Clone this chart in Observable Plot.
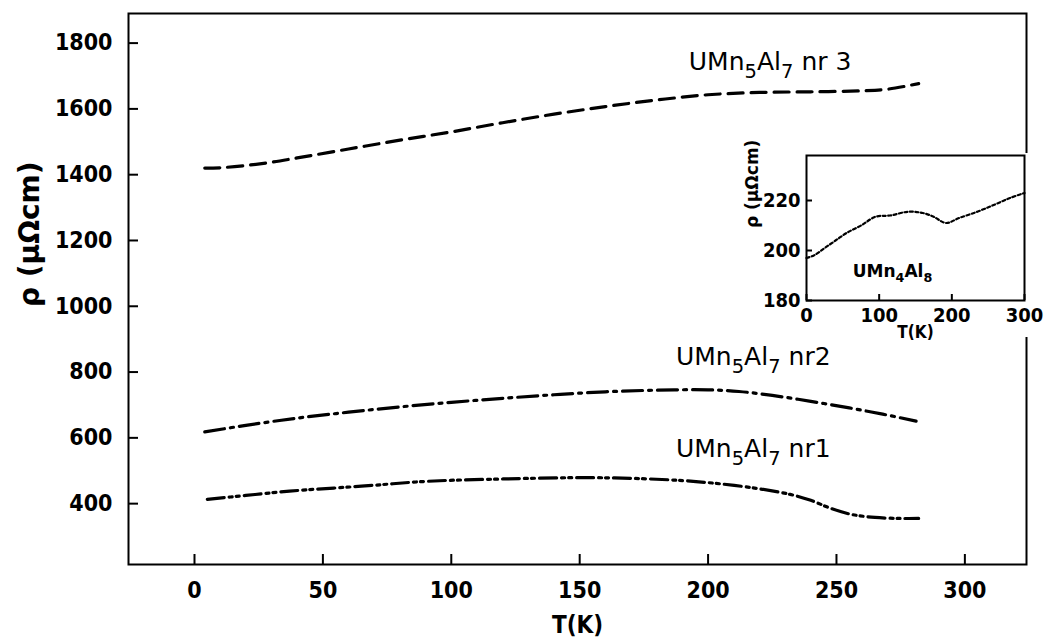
<!DOCTYPE html>
<html><head><meta charset="utf-8">
<script src="https://cdn.jsdelivr.net/npm/d3@7"></script>
<script src="https://cdn.jsdelivr.net/npm/@observablehq/plot@0.6"></script>
<style>
body{margin:0;background:#fff}
#wrap{position:relative;width:1047px;height:641px;background:#fff}
#wrap > svg{position:absolute;overflow:visible}
</style></head><body><div id="wrap"></div>
<script>
// ---- main chart data ----
const xTicks = [0, 50, 100, 150, 200, 250, 300];
const yTicks = [400, 600, 800, 1000, 1200, 1400, 1600, 1800];

const nr3T   = [4, 10, 20, 30, 40, 60, 80, 100, 120, 140, 160, 180, 200, 220, 240, 260, 270, 282];
const nr3Rho = [1420, 1421, 1428, 1438, 1451, 1478, 1505, 1530, 1558, 1584, 1607, 1627, 1643, 1650, 1652, 1655, 1660, 1677];

const nr2T   = [4, 20, 40, 60, 80, 100, 120, 140, 160, 180, 200, 212, 225, 240, 255, 268, 281];
const nr2Rho = [618, 638, 660, 678, 694, 708, 720, 731, 740, 745, 746, 741, 729, 711, 691, 672, 651];

const nr1T   = [5, 20, 37, 65, 91, 120, 150, 170, 190, 205, 220, 232, 240, 248, 256, 265, 275, 282];
const nr1Rho = [413, 425, 438, 453, 468, 475, 479, 477, 470, 460, 445, 428, 410, 385, 367, 358, 355, 355];

const seriesNames = ["UMn5Al7 nr 3", "UMn5Al7 nr2", "UMn5Al7 nr1"];
const labelT   = [192.5, 187.5, 187.5];
const labelRho = [1743, 845, 565];

// ---- inset data ----
const insetXTicks = [0, 100, 200, 300];
const insetYTicks = [180, 200, 220];
const insetT   = [0, 10, 25, 40, 55, 75, 95, 115, 140, 160, 175, 192, 210, 235, 260, 280, 300];
const insetRho = [197, 198, 201, 204, 207, 210, 213.5, 214, 215.5, 215, 213.5, 211, 213, 215.5, 218.5, 221, 223];
const insetName = "UMn4Al8";

const toRows = (T, R) => T.map((t, i) => ({T: t, rho: R[i]}));
const rows3 = toRows(nr3T, nr3Rho);
const rows2 = toRows(nr2T, nr2Rho);
const rows1 = toRows(nr1T, nr1Rho);
const labelRows = seriesNames.map((n, i) => ({name: n, T: labelT[i], rho: labelRho[i]}));
const insetRows = toRows(insetT, insetRho);

const FONT = "DejaVu Sans Condensed, DejaVu Sans, sans-serif";
const LFONT = "DejaVu Sans, sans-serif";

const main = Plot.plot({
  width: 1047, height: 641,
  marginLeft: 128, marginRight: 21, marginTop: 13, marginBottom: 77,
  x: {domain: [-25.7, 324]},
  y: {domain: [215, 1890]},
  style: {background: "white", color: "black", overflow: "visible"},
  marks: [
    Plot.frame({stroke: "black", strokeWidth: 2}),
    Plot.axisY(yTicks, {tickSize: -10, tickPadding: 26, strokeWidth: 2, label: null,
      fontSize: 23, fontWeight: "bold", fontFamily: FONT, tickFormat: d => String(d)}),
    Plot.axisX(xTicks, {tickSize: -10, tickPadding: 27, strokeWidth: 2, label: null,
      fontSize: 23, fontWeight: "bold", fontFamily: FONT, tickFormat: d => String(d)}),
    Plot.line(rows3, {x: "T", y: "rho", stroke: "black", strokeWidth: 3.2, strokeDasharray: "15,8", curve: "catmull-rom"}),
    Plot.line(rows2, {x: "T", y: "rho", stroke: "black", strokeWidth: 3.2, strokeDasharray: "20,6,3,6", curve: "catmull-rom"}),
    Plot.line(rows1, {x: "T", y: "rho", stroke: "black", strokeWidth: 3.2, strokeDasharray: "17,5,3,4,3,5", curve: "catmull-rom"}),
    Plot.text(labelRows, {x: "T", y: "rho", text: "name", textAnchor: "start", lineAnchor: "middle",
      fontSize: 25, fontFamily: LFONT, fill: "black"}),
    Plot.text(["T(K)"], {frameAnchor: "bottom", dy: 61, lineAnchor: "middle", fontSize: 24,
      fontWeight: "bold", fontFamily: FONT, fill: "black"}),
    Plot.text(["ρ (μΩcm)"], {frameAnchor: "left", dx: -98, dy: 18, rotate: -90, lineAnchor: "middle",
      fontSize: 28, fontWeight: "bold", fontFamily: LFONT, fill: "black"})
  ]
});
main.style.left = "0px"; main.style.top = "0px";

const inset = Plot.plot({
  width: 317, height: 184,
  marginLeft: 76, marginRight: 23, marginTop: 2, marginBottom: 37,
  x: {domain: [0, 300]},
  y: {domain: [180, 238]},
  style: {background: "white", color: "black", overflow: "visible"},
  marks: [
    Plot.frame({stroke: "black", strokeWidth: 2}),
    Plot.axisY(insetYTicks, {tickSize: -6, tickPadding: 12, strokeWidth: 2, label: null,
      fontSize: 20, fontWeight: "bold", fontFamily: FONT, tickFormat: d => String(d)}),
    Plot.axisX(insetXTicks, {tickSize: -6, tickPadding: 13, strokeWidth: 2, label: null,
      fontSize: 20, fontWeight: "bold", fontFamily: FONT, tickFormat: d => String(d)}),
    Plot.line(insetRows, {x: "T", y: "rho", stroke: "black", strokeWidth: 2.2, strokeDasharray: "3,2.5", curve: "catmull-rom"}),
    Plot.text([{name: insetName, T: 63.6, rho: 191.6}], {x: "T", y: "rho", text: "name", textAnchor: "start",
      lineAnchor: "middle", fontSize: 17, fontWeight: "bold", fontFamily: LFONT, fill: "black"}),
    Plot.text(["T(K)"], {frameAnchor: "bottom", dy: 32, lineAnchor: "middle", fontSize: 17,
      fontWeight: "bold", fontFamily: FONT, fill: "black"}),
    Plot.text(["ρ (μΩcm)"], {frameAnchor: "left", dx: -54, rotate: -90, lineAnchor: "middle",
      fontSize: 17, fontWeight: "bold", fontFamily: LFONT, fill: "black"})
  ]
});
inset.style.left = "730px"; inset.style.top = "153px";

// chemical formula subscripts: digits inside the first word become lowered, smaller tspans
function subscriptify(svg, scale, shift) {
  d3.select(svg).selectAll("text").each(function () {
    const t = this.textContent;
    if (!/^UMn/.test(t)) return;
    const formula = t.split(" ")[0];
    const rest = t.slice(formula.length);
    const sel = d3.select(this);
    sel.text(null);
    let lowered = false;
    for (const tok of formula.match(/[A-Za-z]+|\d+/g)) {
      const isNum = /^\d+$/.test(tok);
      const ts = sel.append("tspan").text(tok);
      if (isNum) { ts.attr("font-size", (scale * 100) + "%").attr("dy", shift); lowered = true; }
      else if (lowered) { ts.attr("dy", -shift); lowered = false; }
    }
    if (rest) {
      const ts = sel.append("tspan").text(rest);
      if (lowered) ts.attr("dy", -shift);
    }
  });
}
subscriptify(main, 0.78, 8);
subscriptify(inset, 0.75, 5);

const wrap = document.getElementById("wrap");
wrap.appendChild(main);
wrap.appendChild(inset);
</script>
</body></html>
